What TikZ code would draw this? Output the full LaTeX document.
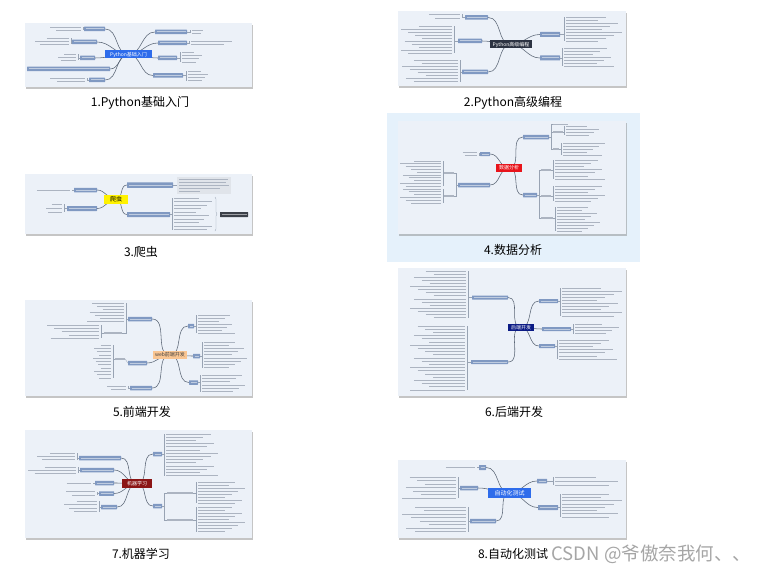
\documentclass[tikz,border=0pt]{standalone}
\usepackage{fontspec}
\setmainfont{Noto Sans CJK SC}
\usetikzlibrary{shadows,decorations.pathreplacing}
\definecolor{panelbg}{HTML}{ECF1F8}
\definecolor{brcol}{HTML}{8099C2}
\definecolor{leafcol}{HTML}{ACB4C1}
\definecolor{spcol}{HTML}{98A3B3}
\definecolor{concol}{HTML}{5A6575}
\definecolor{hl}{HTML}{E5F1FB}
\definecolor{blueA}{HTML}{2E6CEB}
\definecolor{darkB}{HTML}{2C3342}
\definecolor{yelC}{HTML}{FFF200}
\definecolor{redD}{HTML}{E8141B}
\definecolor{peachE}{HTML}{F9C592}
\definecolor{navyF}{HTML}{0B1B85}
\definecolor{maroonG}{HTML}{8B1515}
\definecolor{blockcol}{HTML}{E0E4EA}
\definecolor{darkbox}{HTML}{3B4049}
\pgfdeclarelayer{back}
\pgfdeclarelayer{bgl}
\pgfsetlayers{back,bgl,main}
\tikzset{
 panel/.style={fill=panelbg, draw=none, drop shadow={shadow xshift=1.2pt, shadow yshift=-2pt, opacity=.45}},
 br/.style={fill=brcol, inner sep=0, minimum height=4.5, rounded corners=0.4,
   path picture={\draw[white, opacity=.5, line width=1pt] ([xshift=1.5pt]path picture bounding box.west) -- ([xshift=-1.5pt]path picture bounding box.east);}},
 subn/.style={fill=leafcol, inner sep=0, minimum height=1.1},
 ctr/.style={inner sep=0, font=\fontsize{5}{5}\selectfont, text=white},
 con/.style={draw=concol, line width=0.55pt},
 sp/.style={draw=spcol, line width=0.3pt},
 leaf/.style={draw=leafcol, line width=0.8pt},
 captxt/.style={font=\fontsize{12}{12}\selectfont, text=black},
}
\newcommand\leafR[6]{%
  \draw[sp] (#1.east) -| ({#2-2},{#4});
  \draw[sp] (#1.east) -| ({#2-2},{#4+(#5-1)*#6});
  \foreach \k in {1,...,#5}{%
    \pgfmathsetmacro\xe{#3-mod(\k*37+#5,7)*(#3-#2)*0.07}%
    \draw[leaf] (#2,{#4+(\k-1)*#6}) -- (\xe,{#4+(\k-1)*#6});
  }%
}
\newcommand\leafL[6]{%
  \draw[sp] (#1.west) -| ({#3+2},{#4});
  \draw[sp] (#1.west) -| ({#3+2},{#4+(#5-1)*#6});
  \foreach \k in {1,...,#5}{%
    \pgfmathsetmacro\xs{#2+mod(\k*37+#5,7)*(#3-#2)*0.07}%
    \draw[leaf] (\xs,{#4+(\k-1)*#6}) -- (#3,{#4+(\k-1)*#6});
  }%
}
\begin{document}
\begin{tikzpicture}[x=1pt,y=-1pt]
\useasboundingbox (0,0) rectangle (761,578);
\begin{pgfonlayer}{back}
\fill[white] (0,0) rectangle (761,578);
\fill[hl] (387,113) rectangle (640,262);
\path[panel] (25,23) rectangle (252,87);
\path[panel] (398,11) rectangle (626,86);
\path[panel] (25,174) rectangle (252,234);
\path[panel] (398,121) rectangle (626,234);
\path[panel] (25,300) rectangle (252,396);
\path[panel] (398,268) rectangle (626,396);
\path[panel] (25,430) rectangle (252,538);
\path[panel] (398,460) rectangle (626,538);
\end{pgfonlayer}

% ---------- Panel 1 ----------
\node[ctr, fill=blueA, minimum width=47, minimum height=8] (c1) at (128.5,54.5) {Python基础入门};
\node[br, minimum width=21] (a1) at (94.5,29) {};
\node[br, minimum width=25] (a2) at (84.5,42) {};
\node[br, minimum width=15] (a3) at (87.5,58) {};
\node[br, minimum width=83] (a4) at (68.5,69) {};
\node[br, minimum width=16] (a5) at (97,80) {};
\node[br, minimum width=32] (a6) at (171,32) {};
\node[br, minimum width=29] (a7) at (172.5,43) {};
\node[br, minimum width=19] (a8) at (167.5,58) {};
\node[br, minimum width=30] (a9) at (168,75.5) {};
\leafL{a1}{38}{81}{27}{2}{3.5}
\leafL{a2}{35}{69}{38.5}{3}{3}
\leafL{a3}{58}{76}{54}{3}{3.2}
\leafL{a5}{37}{85}{78}{2}{3.3}
\leafR{a6}{192}{207}{30.5}{2}{3}
\leafR{a7}{191}{248}{41.5}{2}{3}
\leafR{a8}{182}{203}{52.5}{4}{3.2}
\leafR{a9}{188}{210}{71}{4}{3.3}

% ---------- Panel 2 ----------
\node[ctr, fill=darkB, minimum width=42, minimum height=8] (c2) at (511,44.5) {Python高级编程};
\node[br, minimum width=23] (b1) at (476.5,17.5) {};
\node[br, minimum width=24] (b2) at (470,41) {};
\node[br, minimum width=26] (b3) at (475,72) {};
\node[br, minimum width=20, minimum height=5] (b4) at (550,34.5) {};
\node[br, minimum width=20, minimum height=5] (b5) at (550,58) {};
\leafL{b1}{417}{460}{14.5}{2}{3.5}
\leafL{b2}{401}{452}{26}{10}{3}
\leafL{b3}{402}{458}{60}{8}{3.1}
\leafR{b4}{566}{622}{17}{9}{3}
\leafR{b5}{564}{614}{48}{7}{3}

% ---------- Panel 3 ----------
\node[ctr, fill=yelC, text=black, font=\fontsize{6}{6}\selectfont, minimum width=24, minimum height=9] (c3) at (116,199.5) {爬虫};
\node[br, minimum width=23] (d1) at (85.5,190) {};
\node[br, minimum width=30, minimum height=5] (d2) at (82,208.5) {};
\node[br, minimum width=46, minimum height=5.5] (d3) at (150,185) {};
\node[br, minimum width=43, minimum height=5] (d4) at (148.5,214.5) {};
\node[br, fill=darkbox, minimum width=28, minimum height=5] (d5) at (234,214.5) {};
\leafL{d1}{28}{70}{190}{1}{3}
\leafL{d2}{46}{62}{204}{3}{4}
\fill[blockcol] (177,177) rectangle (231,194);
\draw[sp] (d3.east) -- (177,185);
\foreach \yy/\xe in {179.5/228,182.5/226,185.5/229,188.5/220,191.5/200}
  \draw[leaf] (179,\yy) -- (\xe,\yy);
\leafR{d4}{174}{212}{198}{10}{3.5}
\draw[sp, decorate, decoration={brace,amplitude=2pt}] (215,197) -- (215,231);

% ---------- Panel 4 ----------
\node[ctr, fill=redD, minimum width=26, minimum height=8] (c4) at (509,168) {数据分析};
\node[br, minimum width=10, minimum height=4] (e1) at (485,154) {};
\node[br, minimum width=32] (e2) at (474,185) {};
\node[br, minimum width=26] (e3) at (536,137) {};
\node[br, minimum width=14] (e4) at (530,195) {};
\node[subn, minimum width=10] (s41) at (449,173) {};
\node[subn, minimum width=10] (s42) at (449,196) {};
\node[subn, minimum width=10] (s43) at (558,132) {};
\node[subn, minimum width=6] (s44) at (556,149) {};
\node[subn, minimum width=10] (s45) at (546,170) {};
\node[subn, minimum width=10] (s46) at (546,196) {};
\node[subn, minimum width=12] (s47) at (547,218) {};
\leafL{e1}{457}{477}{152.5}{2}{3}
\draw[sp] (e2.west) -- ++(-1.5,0) |- (s41.east);
\draw[sp] (e2.west) -- ++(-1.5,0) |- (s42.east);
\leafL{s41}{400}{441}{161}{10}{2.8}
\leafL{s42}{400}{441}{189}{6}{2.8}
\draw[sp] (e3.east) -- ++(2,0) |- (553,124);
\draw[sp] (e3.east) -- ++(2,0) |- (s43.west);
\draw[sp] (e3.east) -- ++(2,0) |- (s44.west);
\draw[leaf] (553,124) -- (568,124);
\leafR{s43}{566}{602}{126}{4}{3}
\leafR{s44}{563}{605}{143}{5}{3}
\draw[sp] (e4.east) -- ++(2,0) |- (s45.west);
\draw[sp] (e4.east) -- ++(2,0) |- (s46.west);
\draw[sp] (e4.east) -- ++(2,0) |- (s47.west);
\leafR{s45}{555}{605}{160}{7}{3.2}
\leafR{s46}{555}{605}{186}{6}{3}
\leafR{s47}{557}{600}{207}{9}{3}

% ---------- Panel 5 ----------
\node[ctr, fill=peachE, text=black!75, minimum width=34, minimum height=8] (c5) at (170,355) {web前端开发};
\node[br, minimum width=24] (f1) at (140,319) {};
\node[br, minimum width=19] (f2) at (137.5,363) {};
\node[br, minimum width=22] (f3) at (141,388) {};
\node[br, minimum width=6] (f4) at (191,326) {};
\node[br, minimum width=7] (f5) at (196.5,356) {};
\node[br, minimum width=9] (f6) at (193.5,382.5) {};
\node[subn, minimum width=18] (s51) at (113,333) {};
\node[subn, minimum width=10] (s52) at (120,359) {};
\leafL{f1}{87}{124}{303}{7}{3}
\draw[sp] (f1.west) -- ++(-2,0) |- (s51.east);
\leafL{s51}{47}{99}{325}{5}{3.3}
\draw[sp] (f2.west) -- (s52.east);
\leafL{s52}{93}{111}{345}{11}{3.3}
\leafL{f3}{100}{126}{386}{2}{3}
\leafR{f4}{198}{235}{315}{7}{3}
\leafR{f5}{204}{247}{342}{9}{3.2}
\leafR{f6}{202}{245}{375}{6}{3.3}

% ---------- Panel 6 ----------
\node[ctr, fill=navyF, minimum width=26, minimum height=7] (c6) at (521,327.5) {后端开发};
\node[br, minimum width=36, minimum height=4] (g1) at (490,297.5) {};
\node[br, minimum width=37, minimum height=4] (g2) at (489.5,362) {};
\node[br, minimum width=19, minimum height=4] (g3) at (548.5,301) {};
\node[br, minimum width=29, minimum height=4] (g4) at (556.5,329) {};
\node[br, minimum width=16, minimum height=4] (g5) at (547,346) {};
\leafL{g1}{410}{466}{271}{16}{3.1}
\leafL{g2}{410}{465}{326}{21}{3.2}
\leafR{g3}{562}{622}{288}{10}{3.1}
\leafR{g4}{575}{622}{324}{4}{3.2}
\leafR{g5}{559}{617}{340}{7}{3.2}

% ---------- Panel 7 ----------
\node[ctr, fill=maroonG, minimum width=30, minimum height=9] (c7) at (137,483.5) {机器学习};
\node[br, minimum width=42] (h1) at (100,458) {};
\node[br, minimum width=34] (h2) at (97,470) {};
\node[br, minimum width=19] (h3) at (104.5,483) {};
\node[br, minimum width=15] (h4) at (106.5,493.5) {};
\node[br, minimum width=16] (h5) at (109,507) {};
\node[br, minimum width=9] (h6) at (157.5,454) {};
\node[br, minimum width=9] (h7) at (157.5,506) {};
\node[subn, minimum width=26] (s71) at (180,493) {};
\node[subn, minimum width=26] (s72) at (180,520) {};
\leafL{h1}{37}{75}{453}{3}{3.3}
\leafL{h2}{28}{76}{467}{3}{3}
\leafL{h3}{60}{91}{483}{1}{3}
\leafL{h4}{55}{95}{491.5}{2}{3.5}
\leafL{h5}{62}{97}{501}{4}{3.5}
\leafR{h6}{166}{218}{434}{14}{3.2}
\draw[sp] (h7.east) -- ++(2,0) |- (s71.west);
\draw[sp] (h7.east) -- ++(2,0) |- (s72.west);
\leafR{s71}{198}{245}{482}{8}{3}
\leafR{s72}{198}{245}{507}{9}{3.1}

% ---------- Panel 8 ----------
\node[ctr, fill=blueA, font=\fontsize{6}{6}\selectfont, minimum width=43, minimum height=10] (c8) at (509.5,493) {自动化测试};
\node[br, minimum width=7, minimum height=5] (k1) at (482.5,467.5) {};
\node[br, minimum width=18] (k2) at (469,488) {};
\node[br, minimum width=26] (k3) at (483,521) {};
\node[br, minimum width=10] (k4) at (542,481) {};
\node[br, minimum width=20, minimum height=5] (k5) at (548,507.5) {};
\leafL{k1}{438}{475}{467.5}{1}{3}
\leafL{k2}{402}{456}{477}{7}{3.5}
\leafL{k3}{402}{466}{507}{8}{3.5}
\leafR{k4}{555}{618}{477}{3}{4}
\leafR{k5}{562}{622}{494}{8}{3.3}

% ---------- main curves ----------
\begin{pgfonlayer}{bgl}
\foreach \n in {a1,a2,a3,a4,a5} \draw[con] (c1.center) to[out=180,in=0] (\n.east);
\foreach \n in {a6,a7,a8,a9} \draw[con] (c1.center) to[out=0,in=180] (\n.west);
\foreach \n in {b1,b2,b3} \draw[con] (c2.center) to[out=180,in=0] (\n.east);
\foreach \n in {b4,b5} \draw[con] (c2.center) to[out=0,in=180] (\n.west);
\foreach \n in {d1,d2} \draw[con] (c3.center) to[out=180,in=0] (\n.east);
\foreach \n in {d3,d4} \draw[con] (c3.center) to[out=0,in=180] (\n.west);
\foreach \n in {e1,e2} \draw[con] (c4.center) to[out=180,in=0] (\n.east);
\foreach \n in {e3,e4} \draw[con] (c4.center) to[out=0,in=180] (\n.west);
\foreach \n in {f1,f2,f3} \draw[con] (c5.center) to[out=180,in=0] (\n.east);
\foreach \n in {f4,f5,f6} \draw[con] (c5.center) to[out=0,in=180] (\n.west);
\foreach \n in {g1,g2} \draw[con] (c6.center) to[out=180,in=0] (\n.east);
\foreach \n in {g3,g4,g5} \draw[con] (c6.center) to[out=0,in=180] (\n.west);
\foreach \n in {h1,h2,h3,h4,h5} \draw[con] (c7.center) to[out=180,in=0] (\n.east);
\foreach \n in {h6,h7} \draw[con] (c7.center) to[out=0,in=180] (\n.west);
\foreach \n in {k1,k2,k3} \draw[con] (c8.center) to[out=180,in=0] (\n.east);
\foreach \n in {k4,k5} \draw[con] (c8.center) to[out=0,in=180] (\n.west);
\end{pgfonlayer}

% ---------- captions ----------
\node[captxt] (t1) at (140,103) {1.Python基础入门};
\node[captxt] (t2) at (513,103) {2.Python高级编程};
\node[captxt] (t3) at (141,252) {3.爬虫};
\node[captxt] (t4) at (513,250) {4.数据分析};
\node[captxt] (t5) at (142,412) {5.前端开发};
\node[captxt] (t6) at (514,412) {6.后端开发};
\node[captxt] (t7) at (141,554) {7.机器学习};
\node[captxt] (t8) at (513,554) {8.自动化测试};
\node[font=\fontsize{18.5}{18.5}\selectfont, text=gray!70, anchor=west] (wm) at (548,554) {CSDN @爷傲奈我何、、};
\end{tikzpicture}
\end{document}
